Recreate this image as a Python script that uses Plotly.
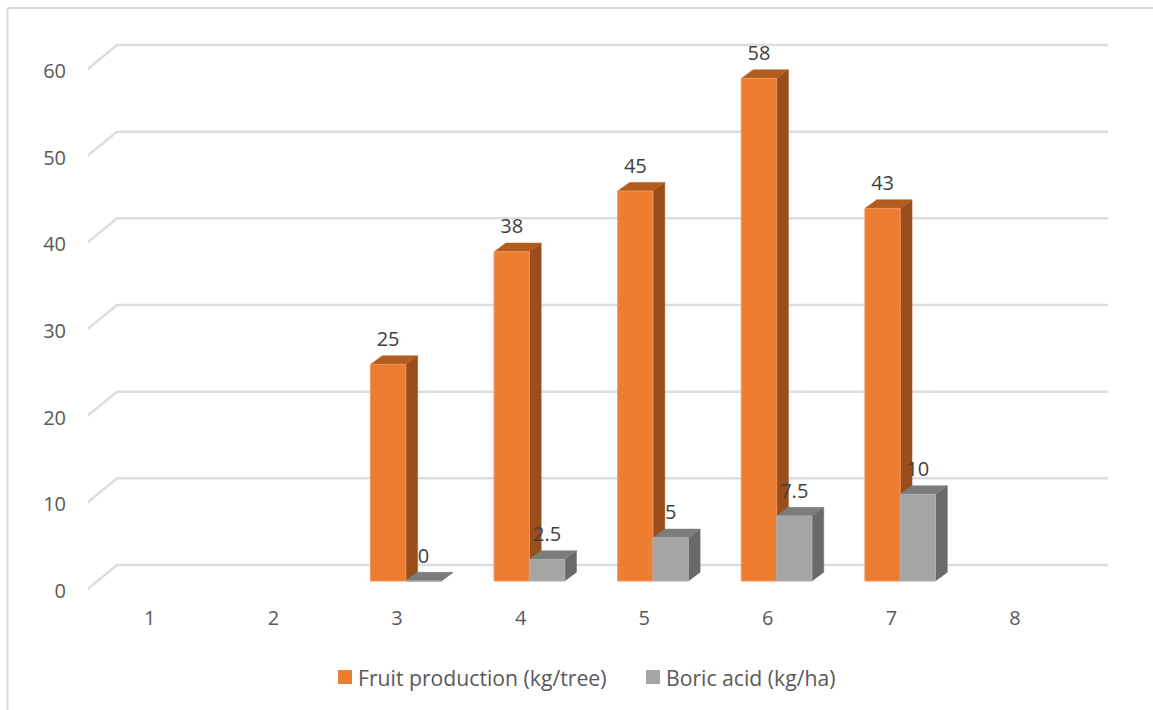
import plotly.graph_objects as go

# Chart data
categories = [1, 2, 3, 4, 5, 6, 7, 8]
fruit_production = [None, None, 25, 38, 45, 58, 43, None]
boric_acid = [None, None, 0, 2.5, 5, 7.5, 10, None]
y_ticks = [0, 10, 20, 30, 40, 50, 60]
series_names = ["Fruit production (kg/tree)", "Boric acid (kg/ha)"]

# Page and plot-area geometry
W, H = 1153, 710
M_L, M_R, M_T, M_B = 88, 45, 40, 119
X_MIN, X_MAX = 0.5, 8.752
Y_MAX = 63.58

# Pseudo-3D projection, in axis units
BAR_W = 0.2856        # width of one bar
GROUP_SHIFT = 0.071   # groups sit slightly right of their tick
BASE = 1.15           # bars stand on a plane raised above the axis plane
DEPTH_X = 0.0955      # bar depth, horizontal
DEPTH_Y = 1.0         # bar depth, vertical
WALL_X = 0.2346       # back wall offset
WALL_Y = 3.0
DIAG_START = 0.12     # where the floor and wall diagonals leave the axis plane

ORANGE = dict(front="#ED7D31", top="#B25C20", side="#9A4E1B", edge="#F09458")
GRAY = dict(front="#A5A5A5", top="#7C7C7C", side="#6A6A6A", edge="#AEAEAE")

fig = go.Figure()


def gridline_xy():
    xs, ys = [], []
    for v in y_ticks:
        xs += [X_MIN - 0.012, X_MIN + WALL_X, X_MAX, None]
        ys += [v + DIAG_START, v + WALL_Y, v + WALL_Y, None]
    return xs, ys


gx, gy = gridline_xy()
fig.add_trace(go.Scatter(x=gx, y=gy, mode="lines", line=dict(color="#DDDDDD", width=2.5),
                         hoverinfo="skip", showlegend=False, cliponaxis=False, zorder=0))


def add_series(name, values, shift, colors, z):
    """Front face as a bar, with side and top faces projected from the same values."""
    cats = [c for c, v in zip(categories, values) if v is not None]
    vals = [v for v in values if v is not None]
    centres = [c + GROUP_SHIFT + shift for c in cats]

    side_x, side_y, top_x, top_y = [], [], [], []
    for cx, v in zip(centres, vals):
        r, l = cx + BAR_W / 2, cx - BAR_W / 2
        t = BASE + v
        side_x += [r, r + DEPTH_X, r + DEPTH_X, r, r, None]
        side_y += [BASE, BASE + DEPTH_Y, t + DEPTH_Y, t, BASE, None]
        top_x += [l, l + DEPTH_X, r + DEPTH_X, r, l, None]
        top_y += [t, t + DEPTH_Y, t + DEPTH_Y, t, t, None]

    for xs, ys, col in ((side_x, side_y, colors["side"]), (top_x, top_y, colors["top"])):
        fig.add_trace(go.Scatter(x=xs, y=ys, mode="lines", fill="toself", fillcolor=col,
                                 line=dict(color=col, width=0.5), hoverinfo="skip",
                                 showlegend=False, zorder=z))

    fig.add_trace(go.Bar(name=name, x=centres, y=vals, base=BASE, width=BAR_W,
                         marker=dict(color=colors["front"], line=dict(color=colors["edge"], width=1)),
                         showlegend=False, zorder=z + 1))

    # Value labels above each bar
    fig.add_trace(go.Scatter(x=centres, y=[BASE + v + 2.7 for v in vals], mode="text",
                             text=[str(v) for v in vals], textposition="middle center",
                             textfont=dict(family="Open Sans", size=20, color="#404040"),
                             hoverinfo="skip", showlegend=False, cliponaxis=False, zorder=10))


add_series(series_names[0], fruit_production, -BAR_W / 2, ORANGE, 1)
add_series(series_names[1], boric_acid, BAR_W / 2, GRAY, 3)

plot_w = W - M_L - M_R
plot_h = H - M_T - M_B


def paper_x(px):
    return (px - M_L) / plot_w


def paper_y(py):
    return (H - M_B - py) / plot_h


# Legend: swatch squares with their captions beneath the plot
legend_entries = [(series_names[0], 338, 356, ORANGE["front"]),
                  (series_names[1], 646, 664, GRAY["front"])]
LEGEND_Y = 677
legend_shapes, legend_notes = [], []
for label, swatch_px, text_px, colour in legend_entries:
    legend_shapes.append(dict(type="rect", xref="paper", yref="paper",
                              x0=paper_x(swatch_px), x1=paper_x(swatch_px + 14),
                              y0=paper_y(LEGEND_Y + 7), y1=paper_y(LEGEND_Y - 7),
                              fillcolor=colour, line=dict(width=0)))
    legend_notes.append(dict(xref="paper", yref="paper", x=paper_x(text_px), y=paper_y(LEGEND_Y),
                             text=label, showarrow=False, xanchor="left", yanchor="middle",
                             font=dict(family="Open Sans", size=21.2, color="#595959")))

fig.update_layout(
    width=W, height=H, autosize=False,
    margin=dict(l=M_L, r=M_R, t=M_T, b=M_B, pad=0),
    paper_bgcolor="white", plot_bgcolor="white",
    barmode="overlay",
    showlegend=False,
    font=dict(family="Open Sans", size=20, color="#595959"),
    xaxis=dict(range=[X_MIN, X_MAX], tickmode="array", tickvals=categories,
               ticktext=[str(c) for c in categories], showgrid=False, zeroline=False,
               showline=False, ticks="", ticklabelstandoff=13,
               tickfont=dict(family="Open Sans", size=20, color="#595959")),
    yaxis=dict(range=[0, Y_MAX], tickmode="array", tickvals=y_ticks,
               showgrid=False, zeroline=False, showline=False, ticks="",
               ticklabelstandoff=21,
               tickfont=dict(family="Open Sans", size=20, color="#595959")),
    annotations=legend_notes,
    shapes=legend_shapes + [
        dict(type="line", xref="paper", yref="paper", x0=paper_x(7.5), x1=paper_x(7.5),
             y0=paper_y(H), y1=paper_y(8), line=dict(color="#D9D9D9", width=2)),
        dict(type="line", xref="paper", yref="paper", x0=paper_x(7.5), x1=paper_x(W),
             y0=paper_y(8), y1=paper_y(8), line=dict(color="#D9D9D9", width=2)),
    ],
)

fig.write_html("out.html")
